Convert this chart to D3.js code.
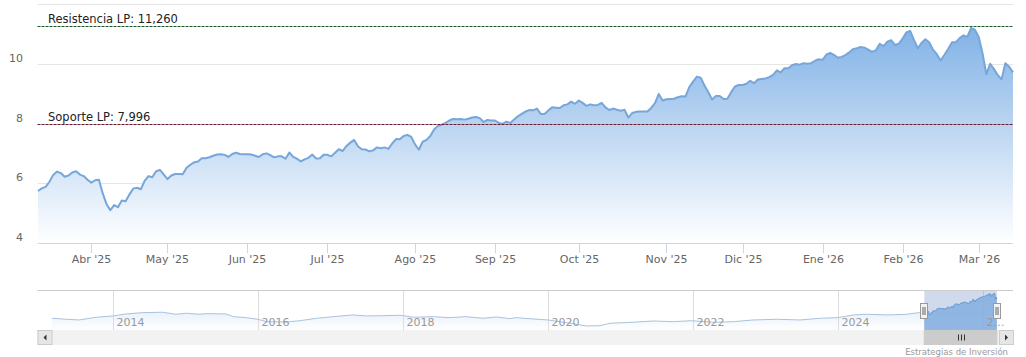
<!DOCTYPE html>
<html><head><meta charset="utf-8">
<script src="https://cdn.jsdelivr.net/npm/d3@7"></script>
<style>
body{margin:0;background:#fff;}
svg{display:block;font-family:"DejaVu Sans",Verdana,sans-serif;}
</style>
</head><body>
<svg id="c" width="1026" height="357"></svg>
<script>
// ---------- DATA ----------
const startDate = "2025-03-12";
const endDate = "2026-03-13";
const holidays = ["2025-04-18","2025-04-21","2025-05-01","2025-12-25","2025-12-26","2026-01-01"];
const values = [
5.74,5.83,5.88,6.05,6.28,6.39,6.34,6.22,6.26,6.36,
6.40,6.29,6.24,6.12,6.02,6.10,6.12,5.66,5.30,5.10,
5.27,5.20,5.42,5.40,5.62,5.82,5.85,5.80,6.08,6.24,
6.20,6.40,6.45,6.30,6.14,6.26,6.31,6.31,6.30,6.52,
6.62,6.70,6.73,6.84,6.84,6.87,6.92,6.96,6.97,6.95,
6.88,6.98,7.02,6.98,6.97,6.97,6.96,6.92,6.88,6.97,
7.00,6.94,6.87,6.90,6.90,6.82,7.03,6.88,6.82,6.73,
6.80,6.85,6.96,6.83,6.84,6.95,6.95,6.90,7.02,7.14,
7.08,7.25,7.36,7.45,7.24,7.14,7.13,7.07,7.10,7.20,
7.17,7.20,7.15,7.33,7.48,7.47,7.58,7.62,7.55,7.30,
7.12,7.39,7.45,7.58,7.80,7.92,7.96,8.02,8.10,8.15,
8.14,8.15,8.13,8.16,8.20,8.22,8.18,8.05,8.12,8.10,
8.10,8.02,7.99,8.06,8.02,8.13,8.24,8.32,8.40,8.45,
8.44,8.50,8.32,8.32,8.44,8.54,8.53,8.52,8.61,8.64,
8.73,8.66,8.77,8.69,8.59,8.64,8.61,8.62,8.69,8.54,
8.45,8.50,8.46,8.43,8.46,8.20,8.35,8.39,8.40,8.40,
8.40,8.52,8.68,8.99,8.77,8.81,8.82,8.83,8.88,8.91,
8.90,9.22,9.40,9.57,9.53,9.27,9.05,8.80,8.92,8.92,
8.82,8.83,9.05,9.24,9.29,9.29,9.33,9.43,9.35,9.47,
9.49,9.51,9.55,9.63,9.78,9.71,9.85,9.85,9.95,9.99,
9.97,10.02,10.00,10.02,10.10,10.15,10.13,10.31,10.36,10.30,
10.20,10.23,10.29,10.38,10.49,10.52,10.56,10.54,10.47,10.40,
10.45,10.67,10.59,10.74,10.79,10.63,10.67,10.84,11.05,11.10,
10.80,10.52,10.70,10.82,10.72,10.47,10.32,10.11,10.30,10.50,
10.72,10.72,10.86,10.95,10.90,11.20,11.14,10.90,10.35,9.65,
10.00,9.82,9.62,9.48,10.02,9.90,9.71
];
const monthTicks = ["2025-04-01","2025-05-01","2025-06-01","2025-07-01","2025-08-01","2025-09-01","2025-10-01","2025-11-01","2025-12-01","2026-01-01","2026-02-01","2026-03-01"];
const monthLabels = ["Abr '25","May '25","Jun '25","Jul '25","Ago '25","Sep '25","Oct '25","Nov '25","Dic '25","Ene '26","Feb '26","Mar '26"];
const yTicks = [4,6,8,10,12];
const yLabels = ["4","6","8","10",""];
const resistance = 11.26;
const support = 7.996;
const resistanceLabel = "Resistencia LP: 11,260";
const supportLabel = "Soporte LP: 7,996";
const navHistDates = ["2013-03-01","2013-05-15","2013-07-15","2013-10-10","2014-01-03","2014-03-10","2014-06-01","2014-09-10","2014-11-15","2015-01-08","2015-03-15","2015-04-20","2015-07-25","2015-09-01","2015-11-05","2016-01-03","2016-02-15","2016-05-25","2016-08-01","2016-10-25","2017-01-15","2017-04-25","2017-07-01","2017-09-25","2017-12-20","2018-02-25","2018-06-05","2018-08-25","2018-11-15","2019-02-10","2019-04-20","2019-06-25","2019-07-25","2019-10-20","2020-01-03","2020-04-05","2020-07-15","2020-09-20","2020-11-10","2021-03-05","2021-06-15","2021-09-25","2021-12-25","2022-04-15","2022-07-25","2022-11-01","2023-03-01","2023-06-25","2023-10-05","2024-01-01","2024-03-20","2024-05-25","2024-09-05","2024-12-15","2025-02-10"];
const navHistValues = [4.29,4.02,3.83,4.57,4.93,5.48,5.83,5.94,5.39,5.67,5.39,5.56,5.48,4.73,4.46,4.02,3.36,3.28,3.63,4.29,4.73,5.20,4.93,5.01,5.12,4.57,4.73,4.46,4.73,4.29,4.65,4.18,4.46,4.10,3.83,3.09,2.18,2.26,2.92,3.20,3.55,3.36,3.63,3.20,3.36,3.83,4.02,3.83,4.29,4.46,5.20,5.39,5.20,5.39,5.83];
const navYears = [2014,2016,2018,2020,2022,2024,2026];
const navYearLabels = ["2014","2016","2018","2020","2022","2024","2\u2026"];
const credit = "Estrategias de Inversi\u00f3n";

// ---------- BUILD ----------
const parse = d3.utcParse("%Y-%m-%d");
const fmt = d3.utcFormat("%Y-%m-%d");
const hol = new Set(holidays);
const dates = [];
for (let d = parse(startDate); d <= parse(endDate); d = d3.utcDay.offset(d, 1)) {
  const wd = d.getUTCDay();
  if (wd === 0 || wd === 6 || hol.has(fmt(d))) continue;
  dates.push(new Date(d));
}
const N = Math.min(dates.length, values.length);
const data = d3.range(N).map(i => ({i, date: dates[i], v: values[i]}));

const svg = d3.select("#c");
const L = 37.5, R = 1013, T = 4, B = 243;
const x = d3.scaleLinear().domain([0, N - 1]).range([38, 1013]);
const y = d3.scaleLinear().domain([4, 12]).range([B, T]);

const defs = svg.append("defs");
const g1 = defs.append("linearGradient").attr("id","ag").attr("gradientUnits","userSpaceOnUse")
  .attr("x1",0).attr("x2",0).attr("y1",y(11.3)).attr("y2",B);
g1.append("stop").attr("offset",0).attr("stop-color","#80b1e6");
g1.append("stop").attr("offset",1).attr("stop-color","#ffffff");
const g2 = defs.append("linearGradient").attr("id","ng").attr("x1",0).attr("x2",0).attr("y1",0).attr("y2",1);
g2.append("stop").attr("offset",0).attr("stop-color","#d3e3f5");
g2.append("stop").attr("offset",1).attr("stop-color","#ffffff");

// grid
svg.append("g").selectAll("line").data(yTicks.filter(t => t > 4)).join("line")
  .attr("x1", L).attr("x2", R).attr("y1", d => Math.round(y(d)) + 0.5).attr("y2", d => Math.round(y(d)) + 0.5)
  .attr("stroke", "#e6e6e6").attr("stroke-width", 1);

// area + line
svg.append("path").datum(data)
  .attr("d", d3.area().x(d => x(d.i)).y0(B).y1(d => y(d.v)))
  .attr("fill", "url(#ag)");
svg.append("path").datum(data)
  .attr("d", d3.line().x(d => x(d.i)).y(d => y(d.v)))
  .attr("fill", "none").attr("stroke", "#76a6da").attr("stroke-width", 2).attr("stroke-linejoin","round");

// x axis
svg.append("line").attr("x1", L).attr("x2", R).attr("y1", B + 0.5).attr("y2", B + 0.5).attr("stroke", "#ccd6eb");
const tickIdx = monthTicks.map(s => {
  const t = parse(s);
  return data.findIndex(d => d.date >= t);
});
const xt = svg.append("g");
tickIdx.forEach((ti, k) => {
  const px = Math.round(x(ti)) + 0.5;
  xt.append("line").attr("x1", px).attr("x2", px).attr("y1", B).attr("y2", B + 10).attr("stroke", "#ccd6eb");
  xt.append("text").attr("x", px).attr("y", 263).attr("text-anchor", "middle")
    .attr("font-size", "11px").attr("fill", "#666").text(monthLabels[k]);
});

// y labels
svg.append("g").selectAll("text").data(yTicks.map((t, k) => ({t, l: yLabels[k]})).filter(d => d.l)).join("text")
  .attr("x", 23).attr("y", d => y(d.t) - 2).attr("text-anchor", "end")
  .attr("font-size", "11px").attr("fill", "#666").text(d => d.l);

// plot lines
function plotLine(v, color, label) {
  const py = Math.round(y(v)) + 0.5;
  svg.append("line").attr("x1", L).attr("x2", R).attr("y1", py).attr("y2", py)
    .attr("stroke", color).attr("stroke-width", 1).attr("stroke-dasharray", "3,1");
  svg.append("text").attr("x", 48).attr("y", py - 4).attr("font-size", "11.5px").attr("fill", "#222").text(label);
}
plotLine(resistance, "#1e5a2a", resistanceLabel);
plotLine(support, "#6a1b2c", supportLabel);

// ---------- NAVIGATOR ----------
const NT = 290, NB = 330;
const navData = navHistDates.map((s, k) => ({date: parse(s), v: navHistValues[k]}))
  .concat(data.map(d => ({date: d.date, v: d.v})));
const xn = d3.scaleUtc().domain([Date.UTC(2014,0,1), Date.UTC(2024,0,1)]).range([112.7, 837.7]);
const yn = d3.scaleLinear().domain(d3.extent(navData, d => d.v)).range([326, 293]);

svg.append("path").datum(navData)
  .attr("d", d3.area().x(d => xn(d.date)).y0(NB).y1(d => yn(d.v)))
  .attr("fill", "url(#ng)");
const ng = svg.append("g");
navYears.forEach((yr) => {
  const px = Math.round(xn(Date.UTC(yr,0,1))) + 0.5;
  ng.append("line").attr("x1", px).attr("x2", px).attr("y1", NT).attr("y2", NB).attr("stroke", "#dddddd");
});
svg.append("path").datum(navData)
  .attr("d", d3.line().x(d => xn(d.date)).y(d => yn(d.v)))
  .attr("fill", "none").attr("stroke", "#a9c3de").attr("stroke-width", 1);
// selected range
const s0 = xn(data[0].date), s1 = xn(data[N-1].date);
defs.append("clipPath").attr("id","sel").append("rect").attr("x", s0).attr("y", NT).attr("width", s1 - s0).attr("height", NB - NT);
svg.append("rect").attr("x", s0).attr("y", NT).attr("width", s1 - s0).attr("height", NB - NT).attr("fill", "rgba(102,133,194,0.3)");
svg.append("path").datum(navData).attr("clip-path","url(#sel)")
  .attr("d", d3.area().x(d => xn(d.date)).y0(NB).y1(d => yn(d.v)))
  .attr("fill", "#86b0e2").attr("fill-opacity", 0.85);
svg.append("path").datum(navData).attr("clip-path","url(#sel)")
  .attr("d", d3.line().x(d => xn(d.date)).y(d => yn(d.v)))
  .attr("fill", "none").attr("stroke", "#6d9fd6").attr("stroke-width", 1);
// year labels on top
navYears.forEach((yr, k) => {
  const px = Math.round(xn(Date.UTC(yr,0,1))) + 0.5;
  svg.append("text").attr("x", px + 3).attr("y", 326).attr("font-size", "11px").attr("fill", "#999").text(navYearLabels[k]);
});
// outline
svg.append("path").attr("d", `M${L},${NT+0.5}H${R}`).attr("stroke", "#cccccc").attr("fill","none");
// handles
[s0, s1].forEach(hx => {
  const hg = svg.append("g").attr("transform", `translate(${Math.round(hx)},0)`);
  hg.append("rect").attr("x", -3.5).attr("y", 303.5).attr("width", 7).attr("height", 15).attr("fill", "#f2f2f2").attr("stroke", "#999");
  hg.append("line").attr("x1", -1).attr("x2", -1).attr("y1", 307).attr("y2", 315).attr("stroke", "#666");
  hg.append("line").attr("x1", 1).attr("x2", 1).attr("y1", 307).attr("y2", 315).attr("stroke", "#666");
});
// scrollbar
svg.append("rect").attr("x", L).attr("y", 330.5).attr("width", R - L).attr("height", 14).attr("fill", "#f2f2f2").attr("stroke","#f2f2f2");
svg.append("rect").attr("x", s0).attr("y", 330.5).attr("width", s1 - s0).attr("height", 14).attr("fill", "#cccccc").attr("stroke","#cccccc");
const mid = Math.round((s0 + s1) / 2) + 0.5;
[-3, 0, 3].forEach(o => svg.append("line").attr("x1", mid + o).attr("x2", mid + o).attr("y1", 334.5).attr("y2", 340.5).attr("stroke", "#333"));
[[L, -1], [R - 14, 1]].forEach(([bx, dir]) => {
  svg.append("rect").attr("x", bx + 0.5).attr("y", 330.5).attr("width", 14).attr("height", 14).attr("fill", "#e6e6e6").attr("stroke", "#cccccc");
  const cx = bx + 7.5, cy = 337.5;
  svg.append("path").attr("d", dir < 0 ? `M${cx+1.5},${cy-3}L${cx-1.5},${cy}L${cx+1.5},${cy+3}Z` : `M${cx-1.5},${cy-3}L${cx+1.5},${cy}L${cx-1.5},${cy+3}Z`).attr("fill", "#333");
});
// credit
svg.append("text").attr("x", 1008).attr("y", 355).attr("text-anchor", "end").attr("font-size", "8.5px").attr("fill", "#999").text(credit);
</script>
</body></html>
